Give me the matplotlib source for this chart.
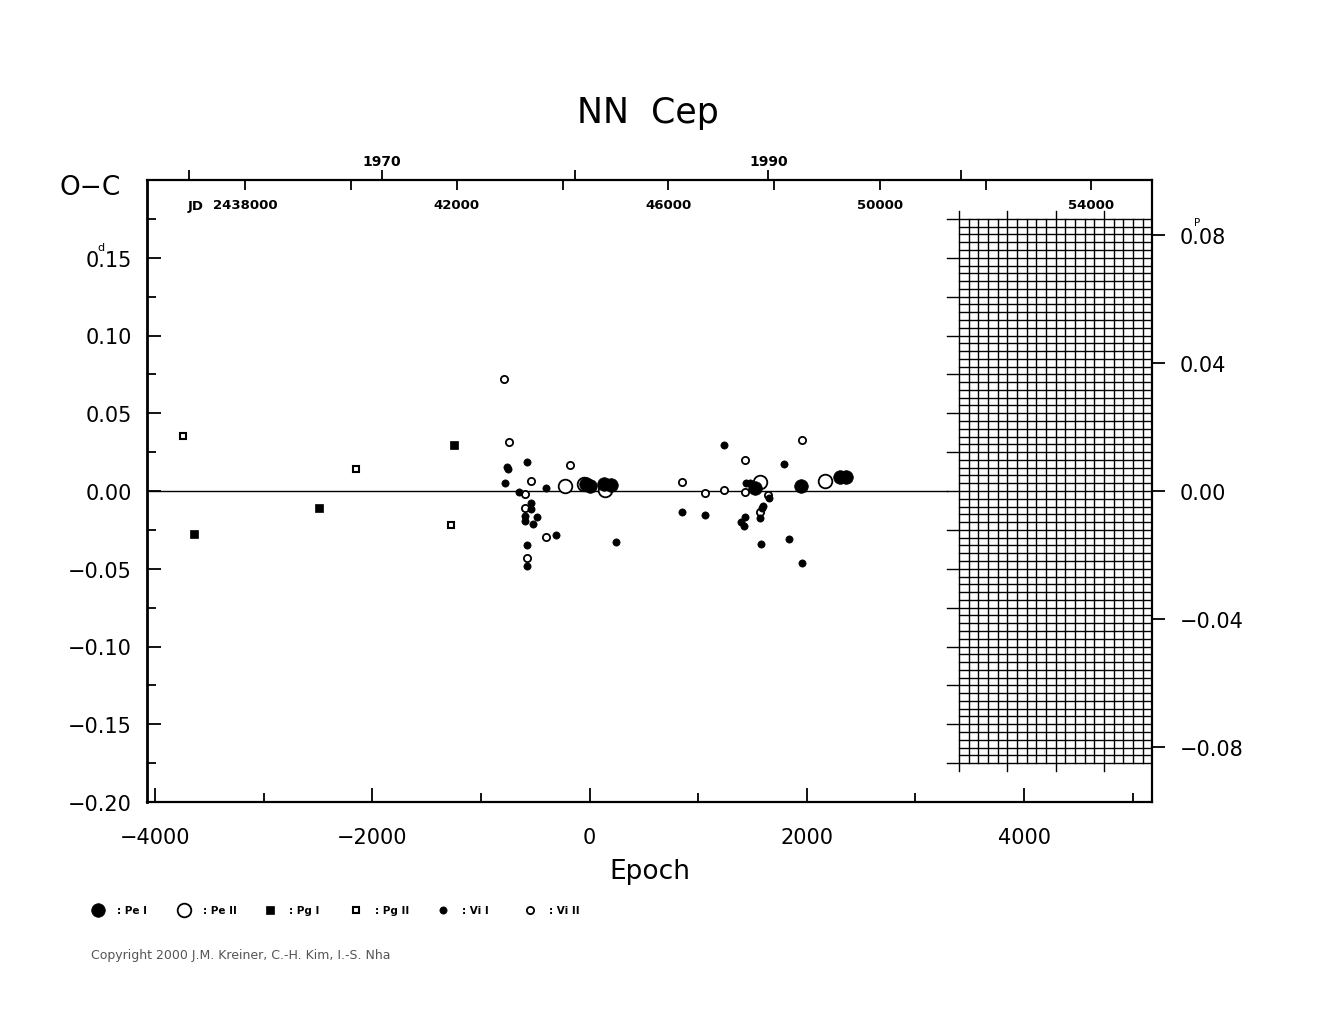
import matplotlib
matplotlib.use("Agg")
import matplotlib.pyplot as plt
import numpy as np
from matplotlib.ticker import MultipleLocator, FixedLocator

plt.rcParams['font.family'] = ['DejaVu Sans']

# ---------------- data (epoch, O-C in days) ----------------
pe1_epoch = [-30, 5, 138, 194, 1521, 1945, 2304, 2359]
pe1_oc = [0.0042, 0.0035, 0.0045, 0.0038, 0.0017, 0.0030, 0.0093, 0.0093]

pe2_epoch = [-222, -50, 147, 1567, 2166]
pe2_oc = [0.0034, 0.0045, 0.0006, 0.0060, 0.0066]

pg1_epoch = [-3641, -2488, -1244]
pg1_oc = [-0.0276, -0.0111, 0.0295]

pg2_epoch = [-3745, -2150, -1272]
pg2_oc = [0.0354, 0.0141, -0.0218]

vi1_epoch = [-574, -759, -747, -777, -648, -399, -541, -541, -593, -593,
             -486, -522, -313, -574, -574, 246, 848, 1238, 1438, 1475,
             1650, 1597, 1588, 1567, 1066, 1429, 1398, 1419, 1788, 1837,
             1960, 1582]
vi1_oc = [0.0184, 0.0156, 0.0141, 0.0049, -0.0008, 0.0017, -0.0079, -0.0115, -0.0160, -0.0192,
          -0.0165, -0.0212, -0.0280, -0.0346, -0.0483, -0.0329, -0.0133, 0.0295, 0.0051, 0.0051,
          -0.0047, -0.0094, -0.0111, -0.0175, -0.0154, -0.0167, -0.0201, -0.0222, 0.0171, -0.0308,
          -0.0464, -0.0340]

vi2_epoch = [-783, -744, -178, -541, -593, -593, -399, -574, 848, 1429,
             1066, 1238, 1429, 1647, 1567, 1960]
vi2_oc = [0.0722, 0.0316, 0.0167, 0.0062, -0.0019, -0.0111, -0.0297, -0.0432, 0.0060, 0.0199,
          -0.0013, 0.0008, -0.0008, -0.0024, -0.0137, 0.0329]

legend_labels = [": Pe I", ": Pe II", ": Pg I", ": Pg II", ": Vi I", ": Vi II"]

# ephemeris used for the top / right scales
T0 = 2444508.0
PERIOD = 2.055

jd_ticks = [2438000, 2440000, 2442000, 2444000, 2446000, 2448000, 2450000, 2452000, 2454000]
jd_labels = ["2438000", "", "42000", "", "46000", "", "50000", "", "54000"]
year_ticks = [1960, 1970, 1980, 1990, 2000]
year_labels = ["", "1970", "", "1990", ""]
left_ticks = [-0.20, -0.15, -0.10, -0.05, 0.00, 0.05, 0.10, 0.15]
right_ticks = [-0.08, -0.04, 0.00, 0.04, 0.08]


def jd_to_epoch(jd):
    return (np.asarray(jd, dtype=float) - T0) / PERIOD


def year_to_epoch(y):
    jd = 2451544.5 + (np.asarray(y, dtype=float) - 2000.0) * 365.25
    return jd_to_epoch(jd)


W, H = 1325, 1020
fig = plt.figure(figsize=(W / 100, H / 100), dpi=100)
L, R, T, B = 147, 1152, 181, 803
ax = fig.add_axes([L / W, 1 - B / H, (R - L) / W, (B - T) / H])
XL = ((L - 589.5) / 0.108625, (R - 589.5) / 0.108625)
ax.set_xlim(*XL)
ax.set_ylim(-0.2, 0.2)

for s in ax.spines.values():
    s.set_linewidth(1.6)
ax.spines['left'].set_linewidth(2.0)

# ---- hatched (future) grid region ----
grid_start = 1999.88
gx_years = grid_start + 0.5 * np.arange(20)
gx = year_to_epoch(gx_years)
for i, e in enumerate(gx):
    if e > XL[1]:
        continue
    ext = 0.180 if i % 5 == 0 else 0.175
    ax.plot([e, e], [-ext, ext], color='black', lw=1.0, zorder=1)
hy = np.round(np.arange(-0.175, 0.17501, 0.005), 3)
x_long = year_to_epoch(1999.25)
for v in hy:
    is_long = abs(v / 0.025 - round(v / 0.025)) < 1e-6
    x0 = x_long if is_long else gx[0]
    ax.plot([x0, XL[1]], [v, v], color='black', lw=1.0, zorder=1)

# zero line
ax.plot([XL[0], x_long], [0, 0], color='black', lw=1.0, zorder=1)

# ---- data ----
ax.plot(vi2_epoch, vi2_oc, 'o', ms=5.2, mfc='white', mec='black', mew=1.3, zorder=3)
ax.plot(vi1_epoch, vi1_oc, 'o', ms=5.2, mfc='black', mec='black', mew=0.5, zorder=3)
ax.plot(pg2_epoch, pg2_oc, 's', ms=5.0, mfc='white', mec='black', mew=1.5, zorder=3)
ax.plot(pg1_epoch, pg1_oc, 's', ms=5.6, mfc='black', mec='black', mew=0.5, zorder=3)
ax.plot(pe2_epoch, pe2_oc, 'o', ms=9.8, mfc='white', mec='black', mew=1.3, zorder=4)
ax.plot(pe1_epoch, pe1_oc, 'o', ms=9.8, mfc='black', mec='black', mew=0.5, zorder=5)

# ---- left / bottom ticks ----
ax.yaxis.set_major_locator(FixedLocator(left_ticks))
ax.yaxis.set_minor_locator(MultipleLocator(0.025))
ax.xaxis.set_major_locator(MultipleLocator(2000))
ax.xaxis.set_minor_locator(MultipleLocator(1000))
ax.set_yticklabels([f"{v:.2f}".replace("-", "\u2212") for v in left_ticks])
ax.tick_params(axis='both', which='major', direction='in', length=10, width=1.3,
               labelsize=15, top=False, right=False)
ax.tick_params(axis='both', which='minor', direction='in', length=6.5, width=1.3,
               top=False, right=False)
ax.tick_params(axis='y', which='major', pad=11)
ax.tick_params(axis='x', which='major', pad=18)

ax.set_xlabel("Epoch", fontsize=19, labelpad=8)
fig.text(60 / W, 1 - 188 / H, "O\u2212C", fontsize=19, ha='left', va='center')
# superscript d above the decimal point of 0.15
ax.annotate("d", xy=(0, 0.15), xycoords=('axes fraction', 'data'),
            xytext=(-46, 11), textcoords='offset pixels', fontsize=8, ha='center', va='center')

# ---- right (phase) axis ----
ax2 = ax.twinx()
ax2.set_ylim(-0.2 / PERIOD, 0.2 / PERIOD)
ax2.yaxis.set_major_locator(FixedLocator(right_ticks))
ax2.set_yticklabels([f"{v:.2f}".replace("-", "\u2212") for v in right_ticks])
ax2.tick_params(axis='y', direction='out', length=9, width=1.3, labelsize=15, pad=11)
for s in ax2.spines.values():
    s.set_visible(False)
ax2.annotate("P", xy=(1, 0.08), xycoords=('axes fraction', 'data'),
             xytext=(45, 13.5), textcoords='offset pixels', fontsize=7.5, ha='center', va='center')

# ---- top JD axis ----
ax3 = ax.twiny()
ax3.set_xlim(*XL)
ax3.xaxis.set_major_locator(FixedLocator(jd_to_epoch(jd_ticks)))
ax3.set_xticklabels(jd_labels)
ax3.tick_params(axis='x', direction='in', length=7, width=1.3, labelsize=9.5,
                top=True, labeltop=True, bottom=False, labelbottom=False, pad=-22.5)
for lab in ax3.get_xticklabels():
    lab.set_fontweight('bold')
for s in ax3.spines.values():
    s.set_visible(False)
ax3.text(jd_to_epoch(2438000) - 455, 0.1835, "JD", fontsize=9.5, fontweight='bold',
         ha='center', va='center', transform=ax.transData)

# ---- top year axis ----
ax4 = ax.twiny()
ax4.set_xlim(*XL)
ax4.xaxis.set_major_locator(FixedLocator(year_to_epoch(year_ticks)))
ax4.set_xticklabels(year_labels)
ax4.tick_params(axis='x', direction='out', length=7, width=1.3, labelsize=10,
                top=True, labeltop=True, bottom=False, labelbottom=False, pad=1.5)
for lab in ax4.get_xticklabels():
    lab.set_fontweight('bold')
for s in ax4.spines.values():
    s.set_visible(False)

# ---- title ----
fig.text(648 / W, 1 - 113 / H, "NN  Cep", fontsize=25, ha='center', va='center')

# ---- legend (figure-pixel overlay) ----
lax = fig.add_axes([0, 0, 1, 1])
lax.set_xlim(0, W)
lax.set_ylim(H, 0)
lax.axis('off')
leg_x = [98, 184, 270, 356, 443, 530]
leg_style = [
    dict(marker='o', ms=9.8, mfc='black', mec='black', mew=0.5),
    dict(marker='o', ms=9.8, mfc='white', mec='black', mew=1.3),
    dict(marker='s', ms=5.6, mfc='black', mec='black', mew=0.5),
    dict(marker='s', ms=5.0, mfc='white', mec='black', mew=1.5),
    dict(marker='o', ms=5.2, mfc='black', mec='black', mew=0.5),
    dict(marker='o', ms=5.2, mfc='white', mec='black', mew=1.3),
]
for xx, st, lab in zip(leg_x, leg_style, legend_labels):
    lax.plot([xx], [910.5], linestyle='none', **st)
    lax.text(xx + 19, 911, lab, fontsize=7.5, fontweight='bold', ha='left', va='center')

fig.text(91 / W, 1 - 956 / H, "Copyright 2000 J.M. Kreiner, C.-H. Kim, I.-S. Nha",
         fontsize=9, color='#555555', ha='left', va='center')

fig.savefig("out.png", dpi=100, facecolor='white')
